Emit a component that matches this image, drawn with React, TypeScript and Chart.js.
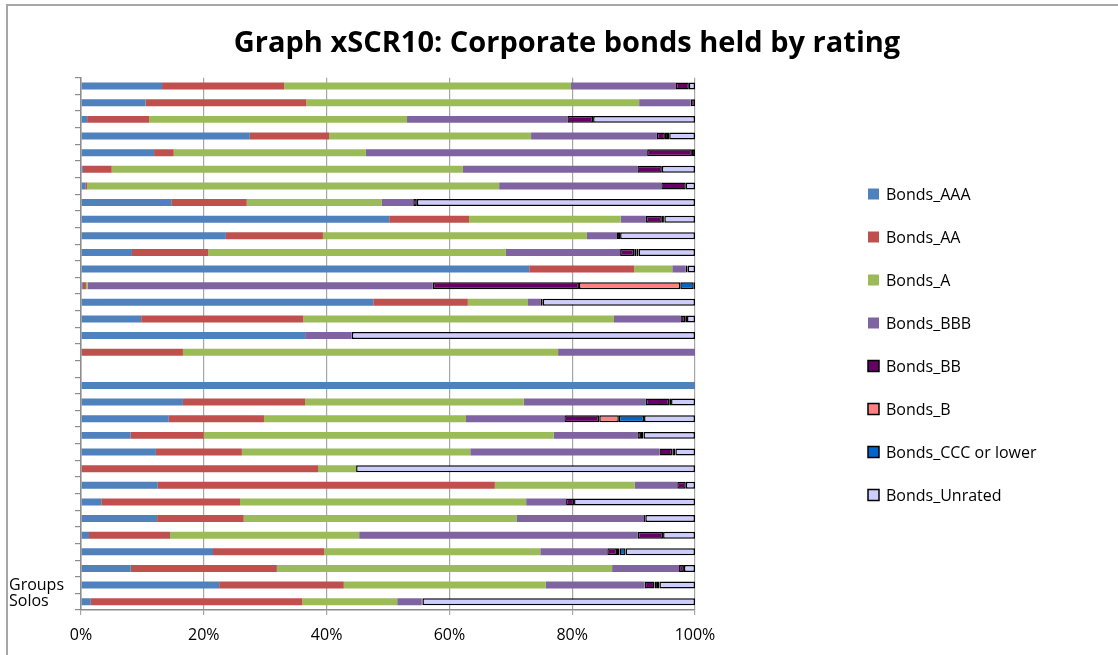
import React, { useEffect, useRef } from "react";
import { Chart, registerables } from "chart.js";

Chart.register(...registerables);

const TITLE = "Graph xSCR10: Corporate bonds held by rating";

const CATEGORIES = [
  "", "", "", "", "", "", "", "", "", "", "", "", "", "", "", "", "", "", "", "", "", "", "", "", "", "", "", "", "", "", "Groups", "Solos",
];

const SERIES_NAMES = [
  "Bonds_AAA", "Bonds_AA", "Bonds_A", "Bonds_BBB", "Bonds_BB", "Bonds_B", "Bonds_CCC or lower", "Bonds_Unrated",
];

const X_TICKS = [0, 20, 40, 60, 80, 100];

const AAA = [13.2, 10.5, 1.0, 27.5, 11.9, 0.3, 0.7, 14.7, 50.2, 23.6, 8.3, 73.0, 0.3, 47.6, 9.8, 36.5, 0, 0, 100, 16.6, 14.3, 8.1, 12.2, 0, 12.5, 3.3, 12.4, 1.3, 21.5, 8.1, 22.5, 1.6];
const AA = [19.9, 26.2, 10.1, 12.9, 3.2, 4.7, 0.3, 12.3, 13.0, 15.8, 12.4, 17.1, 0.5, 15.4, 26.4, 0, 16.6, 0, 0, 19.9, 15.5, 11.9, 14.0, 38.6, 54.9, 22.6, 14.1, 13.2, 18.1, 23.8, 20.3, 34.4];
const A = [46.7, 54.2, 42.0, 32.9, 31.3, 57.2, 67.1, 22.0, 24.7, 43.0, 48.5, 6.2, 0.3, 9.8, 50.6, 0, 61.1, 0, 0, 35.6, 32.9, 57.0, 37.2, 6.2, 22.8, 46.6, 44.5, 30.8, 35.2, 54.6, 32.9, 15.5];
const BBB = [17.1, 8.4, 26.1, 20.5, 45.8, 28.4, 26.4, 5.1, 4.1, 4.9, 18.6, 2.2, 56.2, 2.1, 10.8, 7.6, 22.3, 0, 0, 19.9, 16.0, 13.6, 30.8, 0, 6.9, 6.5, 20.7, 45.4, 10.9, 10.9, 16.1, 4.0];
const BB = [2.1, 0.7, 4.2, 1.3, 7.3, 4.0, 4.0, 0.6, 2.6, 0.5, 2.3, 0.3, 23.8, 0.3, 0.8, 0, 0, 0, 0, 3.8, 5.7, 0.6, 2.1, 0, 1.4, 1.3, 0.2, 4.1, 1.6, 0.8, 1.6, 0.1];
const B = [0, 0, 0, 0.5, 0, 0, 0, 0, 0.2, 0, 0.4, 0, 16.5, 0, 0.3, 0, 0, 0, 0, 0.3, 3.2, 0, 0.5, 0, 0, 0, 0, 0, 0.4, 0, 0.4, 0];
const CCC = [0, 0, 0, 0.2, 0, 0, 0, 0, 0.2, 0, 0.3, 0, 2.2, 0, 0, 0, 0, 0, 0, 0, 4.1, 0.4, 0, 0, 0, 0, 0, 0, 1.0, 0, 0.4, 0];
const UNRATED = [1.0, 0, 16.6, 4.2, 0.5, 5.4, 1.5, 45.3, 5.0, 12.2, 9.2, 1.2, 0.2, 24.8, 1.3, 55.9, 0, 0, 0, 3.9, 8.3, 8.4, 3.2, 55.2, 1.5, 19.7, 8.1, 5.2, 11.3, 1.8, 5.8, 44.4];

const SERIES_VALUES = [AAA, AA, A, BBB, BB, B, CCC, UNRATED];
const COLORS = ["#4F81BD", "#C0504D", "#9BBB59", "#8064A2", "#660066", "#FF8080", "#0066CC", "#CCCCFF"];
const OUTLINED = [false, false, false, false, true, true, true, true];

const FONT = '"Open Sans", "Noto Sans", sans-serif';

const legendPlugin = {
  id: "customLegend",
  afterDraw(chart: any) {
    const ctx = chart.ctx;
    ctx.save();
    ctx.font = `16px ${FONT}`;
    ctx.textBaseline = "middle";
    ctx.textAlign = "left";
    chart.data.datasets.forEach((ds: any, i: number) => {
      const cy = 188 + 43 * i;
      ctx.fillStyle = ds.backgroundColor;
      ctx.fillRect(860, cy - 5.5, 11, 11);
      if (OUTLINED[i]) {
        ctx.strokeStyle = "#000";
        ctx.lineWidth = 1.5;
        ctx.strokeRect(860, cy - 5.5, 11, 11);
      }
      ctx.fillStyle = "#000";
      ctx.fillText(ds.label, 878, cy + 1);
    });
    ctx.restore();
  },
};

export default function App() {
  const ref = useRef<HTMLCanvasElement | null>(null);

  useEffect(() => {
    document.body.style.margin = "0";
    document.body.style.overflow = "hidden";
    const canvas = ref.current;
    if (!canvas) return;
    const datasets = SERIES_NAMES.map((name, i) => ({
      label: name,
      data: SERIES_VALUES[i],
      backgroundColor: COLORS[i],
      borderColor: "#000",
      borderWidth: OUTLINED[i] ? 1.5 : 0,
      borderSkipped: false as any,
      categoryPercentage: 1,
      barPercentage: 0.42,
    }));
    const chart = new Chart(canvas, {
      type: "bar",
      data: { labels: CATEGORIES, datasets },
      options: {
        indexAxis: "y",
        animation: false,
        responsive: false,
        maintainAspectRatio: false,
        devicePixelRatio: 1,
        layout: { padding: { left: 1, right: 0, top: 0, bottom: 0 } },
        plugins: {
          legend: { display: false },
          tooltip: { enabled: false },
          title: {
            display: true,
            text: TITLE,
            color: "#000",
            font: { family: FONT, size: 29, weight: "bold", lineHeight: 1.2 },
            padding: { top: 20, bottom: 17 },
          },
        },
        scales: {
          x: {
            stacked: true,
            min: 0,
            max: 100,
            afterBuildTicks: (s: any) => {
              s.ticks = X_TICKS.map((v) => ({ value: v }));
            },
            ticks: {
              callback: (v: any) => `${v}%`,
              color: "#000",
              font: { family: FONT, size: 16, lineHeight: 1.2 },
              padding: 11,
              maxRotation: 0,
            },
            grid: { color: "#a6a6a6", lineWidth: 1.2, tickLength: 5 },
            border: { color: "#8c8c8c", width: 1.5 },
            afterFit: (s: any) => {
              s.height = 46;
            },
          },
          y: {
            stacked: true,
            ticks: {
              autoSkip: false,
              crossAlign: "far",
              color: "#000",
              font: { family: FONT, size: 16, lineHeight: 1.0 },
            },
            grid: { offset: true, drawOnChartArea: false, tickLength: 6, color: "#8c8c8c", lineWidth: 1.2 },
            border: { color: "#8c8c8c", width: 1.5 },
            afterFit: (s: any) => {
              s.width = 72;
            },
          },
          legendSpace: {
            type: "linear",
            axis: "y",
            position: "right",
            display: true,
            grid: { display: false, drawTicks: false },
            ticks: { display: false },
            border: { display: false },
            afterFit: (s: any) => {
              s.width = 430;
            },
          },
        },
      } as any,
      plugins: [legendPlugin],
    });
    return () => chart.destroy();
  }, []);

  return (
    <div style={{ position: "fixed", left: 0, top: 0, width: 1118, height: 655, overflow: "hidden", background: "#fff" }}>
      <div
        style={{
          position: "absolute",
          left: 6,
          top: 4,
          width: 1130,
          height: 670,
          border: "2px solid #a6a6a6",
          boxSizing: "border-box",
        }}
      />
      <canvas
        ref={ref}
        width={1117}
        height={650}
        style={{ position: "absolute", left: 8, top: 6, width: 1117, height: 650 }}
      />
    </div>
  );
}
